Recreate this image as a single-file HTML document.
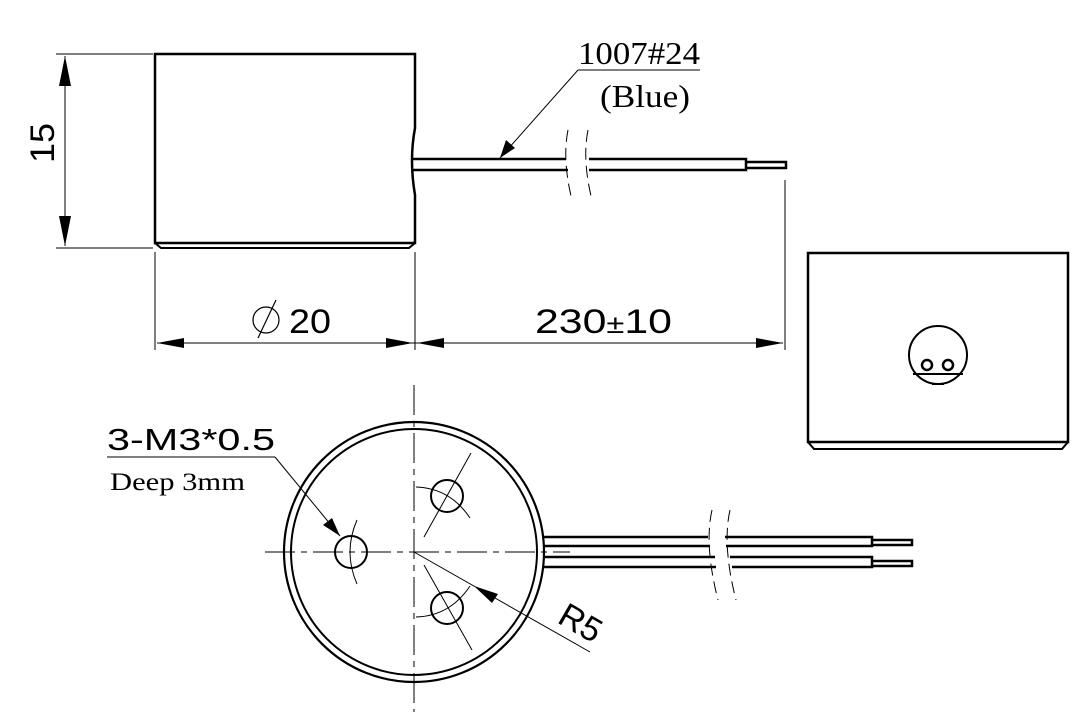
<!DOCTYPE html>
<html><head><meta charset="utf-8"><style>body{margin:0;background:#fff}svg{display:block}</style></head><body>
<svg width="1080" height="720" viewBox="0 0 1080 720" xmlns="http://www.w3.org/2000/svg">
<g fill="none" stroke="#000">
<path d="M155,243 V54 H415 V128 Q409,160 415,195 V243 Z" stroke-width="2.5"/>
<path d="M155,243 L161,248 H409 L415,243" stroke-width="2"/>
<path d="M413,159 H566 M413,170 H568 M589,159 H746 V170 H589 M746,162 H786 V168 H746" stroke-width="2.5"/>
<path d="M568,130 Q562,160 572,200 M588,130 Q582,160 592,200" stroke-width="1" stroke-dasharray="12,6"/>
<path d="M56,54 H153 M56,248 H153 M65,56 V246" stroke-width="1"/>
<path d="M155,252 V350 M415,252 V350 M785,180 V350 M157,343 H783" stroke-width="1"/>
<path d="M500,158 L578,70 H700" stroke-width="1"/>
<path d="M808,442 V253 H1068 V442 Z" stroke-width="2.5"/>
<path d="M808,442 L814,449 H1062 L1068,442" stroke-width="2"/>
<circle cx="938" cy="355" r="29" stroke-width="2"/>
<path d="M913,374 H963" stroke-width="2"/>
<path d="M932,384 H944" stroke-width="2"/>
<circle cx="927" cy="365" r="5" stroke-width="2.5"/>
<circle cx="948" cy="365" r="5" stroke-width="2.5"/>
<circle cx="414" cy="552" r="130" stroke-width="2.2"/>
<circle cx="414" cy="552" r="123" stroke-width="2"/>
<path d="M414,385 V712" stroke-width="1" stroke-dasharray="30,6,6,6"/>
<path d="M265,552 H570" stroke-width="1" stroke-dasharray="30,6,6,6"/>
<circle cx="351" cy="552" r="16" stroke-width="2"/>
<circle cx="447" cy="496" r="16" stroke-width="2"/>
<circle cx="447" cy="608" r="16" stroke-width="2"/>
<path d="M357,520 Q343,552 357,584" stroke-width="1"/>
<path d="M416,487 Q450,488 470,518 M416,617 Q450,616 470,586" stroke-width="1"/>
<path d="M471,453 L424,537 M424,565 L472,650" stroke-width="1"/>
<path d="M414,552 L590,652" stroke-width="1"/>
<path d="M275,457 L340,536" stroke-width="1"/>
<path d="M107,457 H275" stroke-width="1"/>
<path d="M544,537 H708 M544,546 H710 M544,557 H715 M544,567 H716 M725,537 H872 V546 H726 M730,557 H872 V567 H732 M872,540 H912 V545 H872 M872,561 H912 V566 H872" stroke-width="2.5"/>
<path d="M712,510 Q704,545 718,600 M730,510 Q722,545 736,600" stroke-width="1" stroke-dasharray="12,6"/>
</g>
<g fill="#000">
<path d="M65,56 L59,86 H71 Z M65,246 L59,216 H71 Z"/>
<path d="M157,343 L184,338 V348 Z M413,343 L386,338 V348 Z M417,343 L444,338 V348 Z M783,343 L756,338 V348 Z"/>
<path d="M500,158 L506,140 L515,148 Z"/>
<path d="M340,536 L323,525 L332,518 Z"/>
<path d="M474,586 L498,594 L492,603 Z"/>
</g>
<g font-family="'Liberation Sans',sans-serif" fill="#000">
<text transform="translate(54,143) rotate(-90)" font-size="34" text-anchor="middle" textLength="40" lengthAdjust="spacingAndGlyphs">15</text>
<text x="289" y="333" font-size="34" textLength="42" lengthAdjust="spacingAndGlyphs">20</text>
<text x="535" y="333" font-size="34" textLength="137" lengthAdjust="spacingAndGlyphs">230<tspan font-size="26">±</tspan>10</text>
<text x="107" y="450" font-size="31" textLength="168" lengthAdjust="spacingAndGlyphs">3-M3*0.5</text>
<text transform="translate(556,622) rotate(30)" font-size="34">R5</text>
</g>
<g fill="none" stroke="#000" stroke-width="1.2"><circle cx="266" cy="320" r="13"/><path d="M258,338 L276,300"/></g>
<g font-family="'Liberation Serif',serif" fill="#000">
<text x="578" y="64" font-size="32" textLength="122" lengthAdjust="spacingAndGlyphs">1007#24</text>
<text x="600" y="107" font-size="32" textLength="90" lengthAdjust="spacingAndGlyphs">(Blue)</text>
<text x="110" y="490" font-size="25" textLength="135" lengthAdjust="spacingAndGlyphs">Deep 3mm</text>
</g>
</svg>
</body></html>
